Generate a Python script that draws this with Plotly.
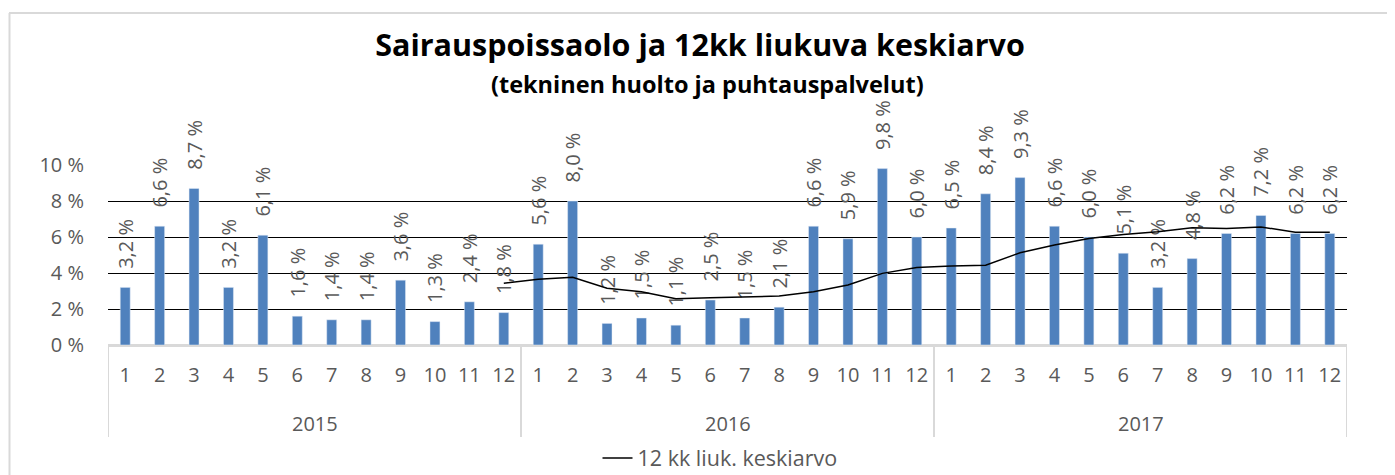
import plotly.graph_objects as go

YEARS = ["2015", "2016", "2017"]
MONTHS = [str(m) for m in range(1, 13)]

# Sairauspoissaolo-% per month (2015-2017)
SICK = [
    3.2, 6.6, 8.7, 3.2, 6.1, 1.6, 1.4, 1.4, 3.6, 1.3, 2.4, 1.8,
    5.6, 8.0, 1.2, 1.5, 1.1, 2.5, 1.5, 2.1, 6.6, 5.9, 9.8, 6.0,
    6.5, 8.4, 9.3, 6.6, 6.0, 5.1, 3.2, 4.8, 6.2, 7.2, 6.2, 6.2,
]
# 12 kk liukuva keskiarvo
ROLLING = [
    None, None, None, None, None, None, None, None, None, None, None, 3.43,
    3.65, 3.76, 3.15, 2.96, 2.57, 2.63, 2.67, 2.72, 2.96, 3.33, 3.98, 4.31,
    4.39, 4.43, 5.12, 5.55, 5.92, 6.14, 6.29, 6.51, 6.47, 6.56, 6.26, 6.26,
]

FONT = "Open Sans, Liberation Sans, sans-serif"
GREY = "#595959"
LIGHT = "#d9d9d9"

# the page body has an 8px margin, so the figure is shifted by 8px
OFF = 8
W, H = 1395 - OFF, 475 - OFF
L, R, T, B = 108, 1347, 165, 345  # plot area in screenshot pixels


def px(sx):
    return (sx - L) / (R - L)


def py(sy):
    return (B - sy) / (B - T)


cats = [f"{y}-{m}" for y in YEARS for m in MONTHS]
labels = ["\u00a0\u00a0\u00a0" + f"{v:.1f} %".replace(".", ",") for v in SICK]
n = len(MONTHS)

fig = go.Figure()
fig.add_trace(go.Bar(x=cats, y=SICK, marker_color="#4F81BD", showlegend=False,
                     text=labels, textposition="outside", textangle=-90,
                     constraintext="none", cliponaxis=False,
                     textfont=dict(family=FONT, size=20, color=GREY)))
fig.add_trace(go.Scatter(x=cats, y=ROLLING, mode="lines", name="12 kk liuk. keskiarvo",
                         line=dict(color="black", width=1.5), cliponaxis=False))

annotations = [dict(text="<b>(tekninen huolto ja puhtauspalvelut)</b>", xref="paper", yref="paper",
                    x=px(707), y=py(84), showarrow=False,
                    font=dict(size=23.5, color="black"), xanchor="center", yanchor="middle")]
# chart frame (top and left edges are the visible ones)
shapes = [
    dict(type="line", xref="paper", yref="paper", x0=px(9), x1=px(1400), y0=py(13), y1=py(13),
         line=dict(color=LIGHT, width=2)),
    dict(type="line", xref="paper", yref="paper", x0=px(9.5), x1=px(9.5), y0=py(13), y1=py(480),
         line=dict(color=LIGHT, width=2)),
]
for i, y in enumerate(YEARS):
    annotations.append(dict(text=y, x=i * n + (n - 1) / 2, xref="x", y=py(423), yref="paper",
                            showarrow=False, yanchor="middle", font=dict(size=20, color=GREY)))
for i in range(len(YEARS) + 1):
    shapes.append(dict(type="line", xref="x", yref="paper", x0=i * n - 0.5, x1=i * n - 0.5,
                       y0=0, y1=py(437), line=dict(color=LIGHT, width=2)))

fig.update_layout(
    width=W, height=H,
    margin=dict(l=L - OFF, r=W - (R - OFF), t=T - OFF, b=H - (B - OFF), autoexpand=False),
    paper_bgcolor="white", plot_bgcolor="white",
    bargap=0.71, font=dict(family=FONT, color=GREY, size=20),
    title=dict(text="<b>Sairauspoissaolo ja 12kk liukuva keskiarvo</b>",
               font=dict(size=30.5, color="black"), xref="container", x=(700 - OFF) / W,
               yref="container", y=1 - (45 - OFF) / H, xanchor="center", yanchor="middle"),
    legend=dict(orientation="h", x=px(720), xanchor="center", y=py(458), yanchor="middle",
                font=dict(size=21.5, color=GREY)),
    xaxis=dict(type="category", range=[-0.5, len(cats) - 0.5], showline=True, linecolor=LIGHT,
               linewidth=2, tickvals=cats, ticktext=[m for _ in YEARS for m in MONTHS],
               ticks="outside", ticklen=11, tickcolor="rgba(0,0,0,0)",
               tickfont=dict(size=20, color=GREY), showgrid=False),
    yaxis=dict(range=[0, 10], dtick=2, ticksuffix=" %", showgrid=True, gridcolor="black",
               gridwidth=1, zeroline=True, zerolinecolor=LIGHT, zerolinewidth=2,
               tickfont=dict(size=20, color=GREY), ticks="outside", ticklen=19,
               tickcolor="rgba(0,0,0,0)", showline=False),
    annotations=annotations,
    shapes=shapes,
)

fig.write_html("out.html")
